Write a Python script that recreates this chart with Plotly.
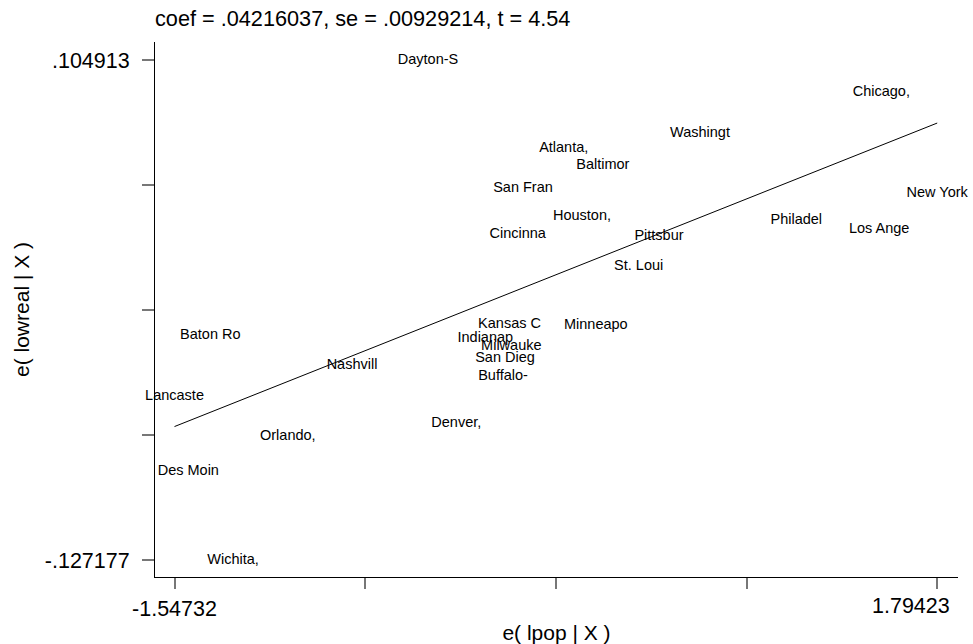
import plotly.graph_objects as go

# ---- data ----
cities = ["Dayton-S", "Chicago,", "Washingt", "Atlanta,", "Baltimor", "San Fran",
          "New York", "Houston,", "Philadel", "Cincinna", "Los Ange", "Pittsbur",
          "St. Loui", "Kansas C", "Minneapo", "Baton Ro", "Indianap", "Milwauke",
          "San Dieg", "Nashvill", "Buffalo-", "Lancaste", "Denver,", "Orlando,",
          "Des Moin", "Wichita,"]

e_lpop = [-0.4367, 1.5493, 0.7550, 0.1579, 0.3292, -0.0205,
          1.79423, 0.2380, 1.1769, -0.0437, 1.5401, 0.5754,
          0.4864, -0.0796, 0.2985, -1.3905, -0.1856, -0.0717,
          -0.0993, -0.7696, -0.1081, -1.54732, -0.3127, -1.0509,
          -1.4868, -1.2910]

e_lowreal = [0.104913, 0.08992, 0.07089, 0.06392, 0.05617, 0.04536,
             0.04304, 0.03217, 0.03032, 0.02400, 0.02646, 0.02289,
             0.00896, -0.01777, -0.01810, -0.02274, -0.02427, -0.02817,
             -0.03356, -0.03667, -0.04210, -0.05138, -0.06373, -0.06995,
             -0.08587, -0.127177]

coef = 0.04216037

x_tickvals = [-1.54732, -0.7119325, 0.123455, 0.9588425, 1.79423]
x_ticktext = ["-1.54732", "", "", "", ""]
x_max_label = "1.79423"
y_tickvals = [-0.127177, -0.0691545, -0.011132, 0.0468905, 0.104913]
y_ticktext = ["-.127177", "", "", "", ".104913"]

title_text = "coef = .04216037, se = .00929214, t = 4.54"
x_title = "e( lpop | X )"
y_title = "e( lowreal | X )"

FONT = "Liberation Sans, Arial, sans-serif"

fig = go.Figure()

x_line = [min(e_lpop), max(e_lpop)]
y_line = [coef * v for v in x_line]
fig.add_trace(go.Scatter(x=x_line, y=y_line, mode="lines",
                         line=dict(color="black", width=1),
                         showlegend=False, hoverinfo="skip"))

fig.add_trace(go.Scatter(x=e_lpop, y=e_lowreal, mode="text", text=cities,
                         textposition="middle center", cliponaxis=False,
                         textfont=dict(family=FONT, size=14.5, color="black"),
                         showlegend=False))

# right-most x tick label, pulled in so it stays inside the page (as in the reference)
fig.add_annotation(x=x_tickvals[-1], xref="x", y=0, yref="paper",
                   text=x_max_label, showarrow=False,
                   xanchor="right", yanchor="middle", xshift=15, yshift=-29,
                   font=dict(size=21.5, family=FONT, color="black"))

fig.update_layout(
    width=973, height=644,
    margin=dict(l=155, r=15, t=42, b=67, autoexpand=False),
    paper_bgcolor="white", plot_bgcolor="white",
    font=dict(family=FONT, color="black"),
    title=dict(text=title_text, x=0, xref="paper", xanchor="left",
               y=1 - 18 / 644, yref="container", yanchor="middle",
               font=dict(size=21.7, family=FONT, color="black")),
)

fig.update_xaxes(
    range=[-1.6328, 1.8853], automargin=False,
    tickmode="array", tickvals=x_tickvals, ticktext=x_ticktext,
    ticks="outside", ticklen=11, tickwidth=1.5, tickcolor="#777777",
    tickfont=dict(size=21.5, family=FONT, color="black"),
    ticklabelstandoff=1, ticklabeloverflow="allow",
    showline=True, linecolor="black", linewidth=1,
    showgrid=False, zeroline=False,
    title=dict(text=x_title, font=dict(size=21, family=FONT, color="black"), standoff=5),
)
fig.update_yaxes(
    range=[-0.13507, 0.11327], automargin=False,
    tickmode="array", tickvals=y_tickvals, ticktext=y_ticktext,
    ticks="outside", ticklen=12, tickwidth=1.5, tickcolor="#777777",
    tickfont=dict(size=21.5, family=FONT, color="black"),
    ticklabelstandoff=8, ticklabeloverflow="allow",
    showline=True, linecolor="black", linewidth=1,
    showgrid=False, zeroline=False,
    title=dict(text=y_title, font=dict(size=21, family=FONT, color="black"), standoff=9),
)

fig.write_html("out.html", config={"displayModeBar": False},
               post_script="document.body.style.margin='0px';")
